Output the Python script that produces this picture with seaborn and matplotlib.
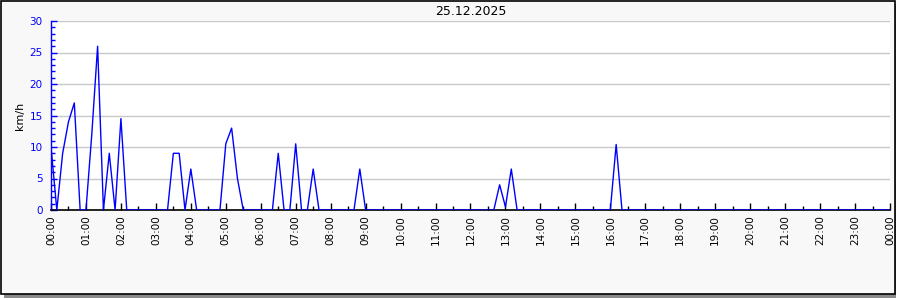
import matplotlib
matplotlib.use("Agg")
import matplotlib.pyplot as plt
from matplotlib.patches import Rectangle
from matplotlib.ticker import MultipleLocator
import seaborn as sns
import pandas as pd
import numpy as np

title = "25.12.2025"
y_label = "km/h"
# wind speed every 10 minutes (km/h), 00:00 .. 24:00
speed_kmh = [
    10, 0, 9, 14, 17, 0,          # 00:00-00:50
    0, 12, 26, 0, 9, 0,           # 01:00-01:50
    14.5, 0, 0, 0, 0, 0,          # 02
    0, 0, 0, 9, 9, 0,             # 03
    6.5, 0, 0, 0, 0, 0,           # 04
    10.5, 13, 5, 0, 0, 0,         # 05
    0, 0, 0, 9, 0, 0,             # 06
    10.5, 0, 0, 6.5, 0, 0,        # 07
    0, 0, 0, 0, 0, 6.5,           # 08
    0, 0, 0, 0, 0, 0,             # 09
    0, 0, 0, 0, 0, 0,             # 10
    0, 0, 0, 0, 0, 0,             # 11
    0, 0, 0, 0, 0, 4,             # 12
    0.5, 6.5, 0, 0, 0, 0,         # 13
    0, 0, 0, 0, 0, 0,             # 14
    0, 0, 0, 0, 0, 0,             # 15
    0, 10.4, 0, 0, 0, 0,          # 16
    0, 0, 0, 0, 0, 0,             # 17
    0, 0, 0, 0, 0, 0,             # 18
    0, 0, 0, 0, 0, 0,             # 19
    0, 0, 0, 0, 0, 0,             # 20
    0, 0, 0, 0, 0, 0,             # 21
    0, 0, 0, 0, 0, 0,             # 22
    0, 0, 0, 0, 0, 0,             # 23
    0,                            # 24:00
]
hour_labels = [f"{h % 24:02d}:00" for h in range(25)]

hours = [i / 6 for i in range(len(speed_kmh))]
df = pd.DataFrame({"hour": hours, "speed": speed_kmh})

sns.set_style("white")
plt.rcParams["font.family"] = ["DejaVu Sans"]

W, H = 900, 300
fig = plt.figure(figsize=(9, 3), dpi=100)
fig.patch.set_facecolor("white")

# shadow and frame
fig.patches.append(Rectangle((4 / W, 1 - 298 / H), 892 / W, 294 / H,
                             transform=fig.transFigure, facecolor="#8a8a8a",
                             edgecolor="none", zorder=0))
fig.patches.append(Rectangle((0.5 / W, 1 - 294 / H), 894 / W, 293.5 / H,
                             transform=fig.transFigure, facecolor="#f8f8f8",
                             edgecolor="black", linewidth=1.2, zorder=1))

ax = fig.add_axes([51 / W, 1 - 210 / H, 839 / W, 189 / H])
ax.set_facecolor("white")
ax.set_zorder(2)

sns.lineplot(data=df, x="hour", y="speed", ax=ax, color="#0000ff",
             linewidth=1.0, zorder=3)

ax.set_xlim(0, 24)
ax.set_ylim(0, 30)
ax.set_xticks(range(25))
ax.set_xticklabels(hour_labels, rotation=90, fontsize=7.5, color="black")
ax.xaxis.set_minor_locator(MultipleLocator(0.5))
ax.set_yticks(range(0, 31, 5))
ax.set_yticklabels([str(v) for v in range(0, 31, 5)], fontsize=7.5, color="#0000ff")
ax.yaxis.set_minor_locator(MultipleLocator(1))

ax.tick_params(axis="x", which="major", direction="in", length=5, width=1,
               color="black", pad=4, bottom=True)
ax.tick_params(axis="x", which="minor", direction="in", length=3, width=1,
               color="black", bottom=True)
ax.tick_params(axis="y", which="major", direction="in", length=4, width=1,
               color="#0000ff", pad=6, left=True)
ax.tick_params(axis="y", which="minor", direction="in", length=3, width=1,
               color="#0000ff", left=True)

ax.yaxis.grid(True, color="#c8c8c8", linewidth=1)
ax.xaxis.grid(False)
ax.set_axisbelow(True)

for s in ["top", "right"]:
    ax.spines[s].set_visible(False)
ax.spines["left"].set_color("#0000ff")
ax.spines["left"].set_linewidth(1)
ax.spines["bottom"].set_color("black")
ax.spines["bottom"].set_linewidth(1.2)

ax.set_xlabel("")
ax.set_ylabel(y_label, fontsize=8, color="black", labelpad=3)
ax.set_title(title, fontsize=9, color="black", pad=4)

fig.savefig("out.png", dpi=100)
